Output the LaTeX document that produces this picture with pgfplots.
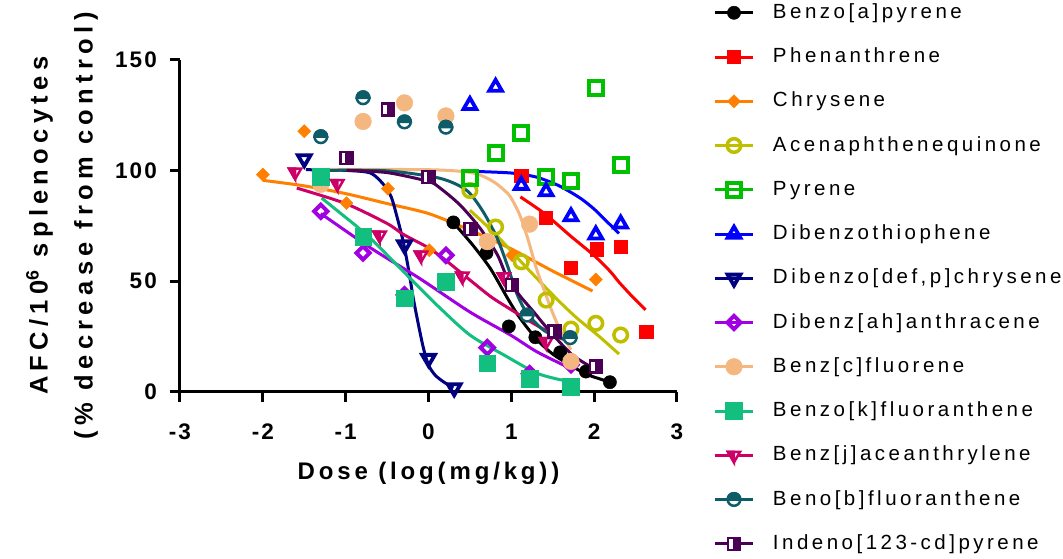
\documentclass[border=0pt]{standalone}
\usepackage{fontspec}
\setmainfont{Liberation Sans}
\newfontfamily\legfont[LetterSpace=17]{Liberation Sans}
\newfontfamily\labfont[LetterSpace=16]{Liberation Sans}
\newfontfamily\ylabfont[LetterSpace=21]{Liberation Sans}
\newfontfamily\tickfont[LetterSpace=9]{Liberation Sans}
\usepackage{pgfplots}
\pgfplotsset{compat=1.18}

\definecolor{cbap}{HTML}{000000}
\definecolor{cphen}{HTML}{FF0000}
\definecolor{cchry}{HTML}{FF8000}
\definecolor{cacen}{HTML}{BFBF00}
\definecolor{cpyr}{HTML}{00C000}
\definecolor{cdbt}{HTML}{0000FF}
\definecolor{cdbc}{HTML}{000080}
\definecolor{cdba}{HTML}{A000E2}
\definecolor{cbzc}{HTML}{F5B780}
\definecolor{cbzk}{HTML}{12BF7F}
\definecolor{cbzj}{HTML}{CC0066}
\definecolor{cbnb}{HTML}{0D5C68}
\definecolor{cind}{HTML}{4B0055}

\pgfdeclareplotmark{halfcirc}{%
  \pgfpathcircle{\pgfpointorigin}{\pgfplotmarksize}%
  \pgfsetfillcolor{white}\pgfusepathqfillstroke
  \pgfpathmoveto{\pgfqpoint{\pgfplotmarksize}{0pt}}%
  \pgfpatharc{0}{180}{\pgfplotmarksize}%
  \pgfpathclose
  \pgfsetfillcolor{cbnb}\pgfusepathqfillstroke}
\pgfdeclareplotmark{halfsq}{%
  \pgfpathrectangle{\pgfqpoint{-\pgfplotmarksize}{-\pgfplotmarksize}}{\pgfqpoint{2\pgfplotmarksize}{2\pgfplotmarksize}}%
  \pgfsetfillcolor{white}\pgfusepathqfillstroke
  \pgfpathrectangle{\pgfqpoint{0pt}{-\pgfplotmarksize}}{\pgfqpoint{\pgfplotmarksize}{2\pgfplotmarksize}}%
  \pgfsetfillcolor{cind}\pgfusepathqfillstroke}
\pgfdeclareplotmark{halftri}{%
  \pgfpathmoveto{\pgfqpoint{0pt}{-\pgfplotmarksize}}%
  \pgfpathlineto{\pgfqpoint{.866\pgfplotmarksize}{.5\pgfplotmarksize}}%
  \pgfpathlineto{\pgfqpoint{-.866\pgfplotmarksize}{.5\pgfplotmarksize}}%
  \pgfpathclose
  \pgfsetfillcolor{white}\pgfusepathqfillstroke
  \pgfpathmoveto{\pgfqpoint{0pt}{-\pgfplotmarksize}}%
  \pgfpathlineto{\pgfqpoint{-.866\pgfplotmarksize}{.5\pgfplotmarksize}}%
  \pgfpathlineto{\pgfqpoint{0pt}{.5\pgfplotmarksize}}%
  \pgfpathclose
  \pgfsetfillcolor{cbzj}\pgfusepathqfillstroke}

\pgfplotsset{
  mk/.style={only marks,
    legend image code/.code={%
      \path[draw=none, fill=none, use as bounding box] (0pt,-11.35pt) rectangle (38pt,7.65pt);
      \draw[line width=3pt] (0pt,0pt) -- (38pt,0pt);
      \draw plot coordinates {(19pt,0pt)};}},
  fit/.style={forget plot, line width=3pt, smooth, tension=0.45, mark=none},
}

\begin{document}
\begin{tikzpicture}
\begin{axis}[
  scale only axis, width=497pt, height=332pt,
  xmin=-3, xmax=3, ymin=0, ymax=150,
  axis x line=bottom, axis y line=left,
  axis line style={line width=3pt, -, black},
  xtick={-3,-2,-1,0,1,2,3}, xticklabels={-3,-2,-1,0,1,2,3},
  ytick={0,50,100,150}, yticklabels={0,50,100,150},
  tick align=outside, major tick length=10pt,
  tick style={line width=3pt, black},
  xticklabel style={font=\tickfont\bfseries\fontsize{22.5}{26}\selectfont, inner sep=0pt, anchor=north, yshift=-22pt},
  yticklabel style={font=\tickfont\bfseries\fontsize{22.5}{26}\selectfont, inner sep=0pt, anchor=east, xshift=-13pt},
  xlabel={Dose (log(mg/kg))},
  xlabel style={at={(axis description cs:0.5,0)}, anchor=base, yshift=-87.6pt, inner sep=0pt,
    font=\labfont\bfseries\fontsize{24}{28}\selectfont},
  ylabel={AFC/10\textsuperscript{6} splenocytes\\(\% decrease from control)},
  ylabel style={at={(axis description cs:0,0.5)}, anchor=center, yshift=118pt, xshift=0pt,
    align=center, inner sep=0pt, font=\ylabfont\bfseries\fontsize{25.5}{45}\selectfont},
  clip=false,
  legend cell align=left,
  legend style={draw=none, fill=none, at={(axis description cs:1.07646,1.17003)}, anchor=north west,
    inner sep=0pt, outer sep=0pt, row sep=23.4pt,
    font=\legfont\fontsize{20.5}{24}\selectfont,
    nodes={inner sep=0pt, outer sep=0pt, text height=15pt, text depth=4pt},
    /tikz/every odd column/.append style={column sep=20pt}},
]
% ---- fitted curves ----
\addplot[fit, color=cbap] coordinates {(0.31,76)(0.54,66)(0.75,55.5)(0.95,42.5)(1.1,33.5)(1.31,23.5)(1.5,17)(1.71,12)(1.9,8)(2.05,6)(2.19,4.3)};
\addplot[fit, color=cphen] coordinates {(1.11,88)(1.4,80.5)(1.71,70.5)(2.0,61.5)(2.19,54.5)(2.3,49.5)(2.46,43)(2.62,37)};
\addplot[fit, color=cchry] coordinates {(-2.0,95.5)(-1.5,93)(-1,89.5)(-0.5,85)(0,80.5)(0.5,73)(1.0,64.5)(1.5,54.5)(1.98,45.5)};
\addplot[fit, color=cacen] coordinates {(0.5,82)(0.8,71.5)(1.11,59)(1.39,48)(1.6,40)(1.8,33)(2.06,25)(2.3,17)};
\addplot[fit, color=cdbt] coordinates {(0.58,99.5)(1.0,98.8)(1.3,97)(1.55,93.5)(1.7,90.5)(1.85,87)(2.0,82.5)(2.15,77)(2.3,71.5)};
\addplot[fit, color=cdbc] coordinates {(-1.48,100.3)(-1.0,100)(-0.7,98.8)(-0.54,93.5)(-0.45,88)(-0.38,79)(-0.3,67)(-0.24,55)(-0.18,41.5)(-0.12,30)(-0.06,19.5)(0.0,12)(0.08,7.5)(0.18,4.5)(0.3,1.7)};
\addplot[fit, color=cdba] coordinates {(-1.3,80.5)(-0.7,65)(-0.1,51)(0.5,36)(0.99,25.6)(1.31,18)(1.71,10.6)};
\addplot[fit, color=cbzc] coordinates {(-1.3,100.5)(0,100.3)(0.46,99.3)(0.65,97.5)(0.8,94.5)(0.9,91.5)(0.99,88)(1.1,80)(1.2,69)(1.3,56)(1.4,45.5)(1.5,35.5)(1.6,27)(1.72,19)};
\addplot[fit, color=cbzk] coordinates {(-1.29,87.5)(-0.86,74.5)(-0.7,69.3)(-0.3,54.2)(0.1,39.2)(0.5,25.6)(0.91,16.6)(1.3,8.5)(1.58,5.5)(1.71,4.8)};
\addplot[fit, color=cbzj] coordinates {(-1.59,92)(-1.0,85)(-0.5,76)(-0.3,71)(0,65)(0.22,59)(0.45,52)(0.75,43)(1.0,37)(1.26,31)(1.45,27)};
\addplot[fit, color=cbnb] coordinates {(-1.3,100)(-0.5,99.8)(0.14,96.4)(0.46,91)(0.66,81.3)(0.83,69.3)(0.95,57.3)(1.07,44)(1.19,35.5)(1.4,27.5)(1.71,22.5)};
\addplot[fit, color=cind] coordinates {(-0.99,100)(-0.5,99)(0,95)(0.14,92)(0.38,84.4)(0.62,74)(0.83,62)(0.95,51.5)(1.1,43.5)(1.26,36.5)(1.46,27.5)(1.74,16.5)(2.02,10)};
% ---- data points ----
\addplot[mk, color=cbap, mark=*, mark size=6.6pt, mark options={fill=cbap, line width=0.5pt}]
  coordinates {(0.30,76.5)(0.70,62.7)(0.97,29.5)(1.29,24.6)(1.59,17.8)(1.90,9.1)(2.19,4.3)};
\addlegendentry{Benzo[a]pyrene}
\addplot[mk, color=cphen, mark=square*, mark size=6.6pt, mark options={fill=cphen, line width=0.5pt}]
  coordinates {(1.12,97.7)(1.42,78.6)(1.72,56)(2.03,64.4)(2.32,65.4)(2.63,27)};
\addlegendentry{Phenanthrene}
\addplot[mk, color=cchry, mark=square*, mark size=4.6pt, mark options={rotate=45, fill=cchry, line width=0.5pt}]
  coordinates {(-2.0,98.1)(-1.5,117.7)(-0.99,85.2)(-0.49,91.7)(0.01,63.9)(1.01,61.7)(2.02,50.7)};
\addlegendentry{Chrysene}
\addplot[mk, color=cacen, mark=o, mark size=6.8pt, mark options={line width=3.5pt}]
  coordinates {(0.5,90.9)(0.81,74.4)(1.12,58.7)(1.42,41.4)(1.72,28.3)(2.02,30.9)(2.32,25.6)};
\addlegendentry{Acenaphthenequinone}
\addplot[mk, color=cpyr, mark=square, mark size=7pt, mark options={line width=4pt}]
  coordinates {(0.5,96.4)(0.81,107.7)(1.12,116.8)(1.42,96.9)(1.72,95.3)(2.02,137.4)(2.32,102.4)};
\addlegendentry{Pyrene}
\addplot[mk, color=cdbt, mark=triangle, mark size=7.3pt, mark options={line width=3.8pt}]
  coordinates {(0.5,129.4)(0.81,137.6)(1.12,93.3)(1.42,90.4)(1.72,79.1)(2.02,70.9)(2.32,75.8)};
\addlegendentry{Dibenzothiophene}
\addplot[mk, color=cdbc, mark=triangle, mark size=7.3pt, mark options={rotate=180, line width=3.8pt}]
  coordinates {(-1.5,105.2)(-0.29,66.3)(0.0,15)(0.31,1.7)};
\addlegendentry{Dibenzo[def,p]chrysene}
\addplot[mk, color=cdba, mark=square, mark size=4.7pt, mark options={rotate=45, line width=4pt}]
  coordinates {(-1.30,81.5)(-0.79,62.7)(-0.29,43.8)(0.21,61.6)(0.71,19.9)(1.22,8.1)(1.72,12.2)};
\addlegendentry{Dibenz[ah]anthracene}
\addplot[mk, color=cbzc, mark=*, mark size=8.3pt, mark options={fill=cbzc, line width=0.5pt}]
  coordinates {(-1.30,93.7)(-0.79,122.1)(-0.29,130.5)(0.21,124.6)(0.71,67.8)(1.22,75.7)(1.72,13.7)};
\addlegendentry{Benz[c]fluorene}
\addplot[mk, color=cbzk, mark=square*, mark size=8.3pt, mark options={fill=cbzk, line width=0.5pt}]
  coordinates {(-1.30,97)(-0.79,70)(-0.29,42.2)(0.21,49.7)(0.71,12.8)(1.22,5.8)(1.72,2.3)};
\addlegendentry{Benzo[k]fluoranthene}
\addplot[mk, color=cbzj, mark=halftri, mark size=7pt, mark options={line width=2.5pt}]
  coordinates {(-1.61,99.2)(-1.10,94)(-0.59,70.7)(-0.09,61.7)(0.41,52.2)(0.91,51.9)(1.42,22.6)};
\addlegendentry{Benz[j]aceanthrylene}
\addplot[mk, color=cbnb, mark=halfcirc, mark size=6.3pt, mark options={line width=2.5pt}]
  coordinates {(-1.30,115.2)(-0.79,132.8)(-0.29,121.9)(0.21,119.5)(1.19,34.6)(1.71,24.4)};
\addlegendentry{Beno[b]fluoranthene}
\addplot[mk, color=cind, mark=halfsq, mark size=6pt, mark options={line width=2.5pt}]
  coordinates {(-0.99,105.7)(-0.49,127.6)(0.0,96.9)(0.51,73.6)(1.01,48.3)(1.52,27.3)(2.02,11.5)};
\addlegendentry{Indeno[123-cd]pyrene}
\end{axis}
\pgfresetboundingbox
\path[use as bounding box] (-180pt,-166.3pt) rectangle (883pt,391.7pt);
\end{tikzpicture}
\end{document}
